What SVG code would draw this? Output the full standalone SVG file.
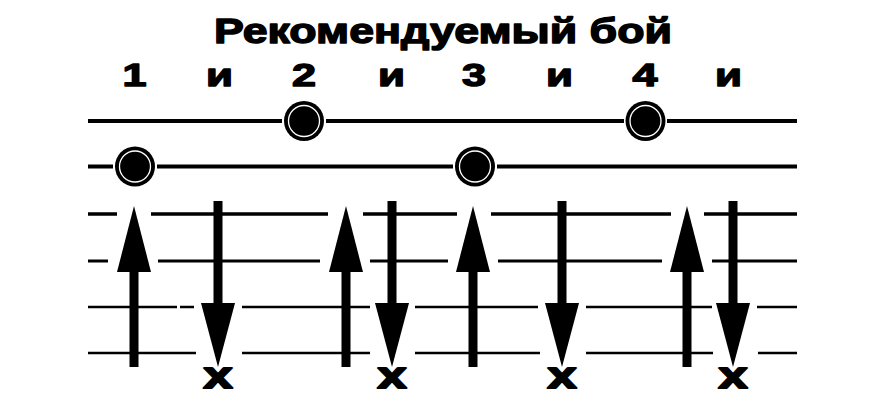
<svg xmlns="http://www.w3.org/2000/svg" width="896" height="400" viewBox="0 0 896 400">
<style>
.t{font-family:"Liberation Sans",Arial,sans-serif;font-weight:bold;fill:#000;stroke:#000;stroke-linejoin:round}
.s{stroke:#000;fill:none}
.ring{fill:none;stroke:#fff;stroke-width:1.3}
</style>
<defs>
<g id="dot"><circle r="20" fill="#000"/><circle r="15.5" class="ring"/></g>
<g id="up"><polygon points="0,206 -17,272 17,272" fill="#000"/><rect x="-4.5" y="272" width="9" height="95" fill="#000"/></g>
<g id="down"><rect x="-4.5" y="201" width="9" height="102" fill="#000"/><polygon points="-17,303 17,303 0,367" fill="#000"/></g>
</defs>
<rect width="896" height="400" fill="#fff"/>
<text id="title" class="t" x="214" y="43" font-size="35" stroke-width="1.4" textLength="458" lengthAdjust="spacingAndGlyphs">Рекомендуемый бой</text>
<g id="counts" class="t" font-size="32" stroke-width="1.4">
<text x="122.5" y="86" textLength="24" lengthAdjust="spacingAndGlyphs">1</text>
<text x="206" y="86" textLength="27" lengthAdjust="spacingAndGlyphs">и</text>
<text x="292" y="86" textLength="24" lengthAdjust="spacingAndGlyphs">2</text>
<text x="378" y="86" textLength="27" lengthAdjust="spacingAndGlyphs">и</text>
<text x="462" y="86" textLength="24" lengthAdjust="spacingAndGlyphs">3</text>
<text x="546" y="86" textLength="27" lengthAdjust="spacingAndGlyphs">и</text>
<text x="632.5" y="86" textLength="25" lengthAdjust="spacingAndGlyphs">4</text>
<text x="715" y="86" textLength="27" lengthAdjust="spacingAndGlyphs">и</text>
</g>
<g id="connectors" class="s">
<path stroke-width="4" d="M88 121H282M326 121H624M667 121H797"/>
<path stroke-width="4" d="M88 166.5H113M157 166.5H453M497 166.5H797"/>
<path stroke-width="3.5" d="M88 214H117M151 214H328M363 214H457M491 214H671M704 214H797"/>
<path stroke-width="3" d="M88 261H108M158 261H320M370 261H448M498 261H662M712 261H797"/>
<path stroke-width="2.5" d="M88 307H177M180 307H194M242 307H370M415 307H538M586 307H712M757 307H797"/>
<path stroke-width="2.5" d="M88 353H196M242 353H370M415 353H540M586 353H713M758 353H797"/>
</g>
<g id="dot1"><use href="#dot" x="135" y="166.5"/></g>
<g id="dot2"><use href="#dot" x="304" y="121"/></g>
<g id="dot3"><use href="#dot" x="475" y="166.5"/></g>
<g id="dot4"><use href="#dot" x="645.5" y="121"/></g>
<g id="up1"><use href="#up" x="134"/></g>
<g id="down1"><use href="#down" x="218"/></g>
<g id="up2"><use href="#up" x="346"/></g>
<g id="down2"><use href="#down" x="392"/></g>
<g id="up3"><use href="#up" x="473"/></g>
<g id="down3"><use href="#down" x="562"/></g>
<g id="up4"><use href="#up" x="687"/></g>
<g id="down4"><use href="#down" x="733"/></g>
<g id="mutes" class="t" font-size="37" stroke-width="2">
<text x="203.5" y="388" textLength="29" lengthAdjust="spacingAndGlyphs">x</text>
<text x="377.5" y="388" textLength="29" lengthAdjust="spacingAndGlyphs">x</text>
<text x="547.5" y="388" textLength="29" lengthAdjust="spacingAndGlyphs">x</text>
<text x="718.5" y="388" textLength="29" lengthAdjust="spacingAndGlyphs">x</text>
</g>
</svg>
